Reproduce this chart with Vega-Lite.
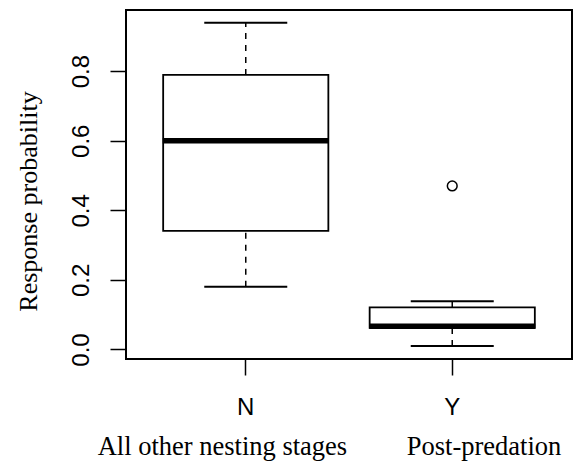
{
  "$schema": "https://vega.github.io/schema/vega-lite/v6.json",
  "width": 446,
  "height": 349,
  "autosize": {"type": "none"},
  "padding": {"left": 126, "top": 10, "right": 1, "bottom": 104},
  "background": "white",
  "config": {
    "view": {"stroke": "black", "strokeWidth": 2},
    "axis": {"grid": false, "domain": false, "tickColor": "black", "tickWidth": 1.5, "labelColor": "black", "titleColor": "black"},
    "axisY": {
      "format": ".1f", "labelAngle": -90, "labelAlign": "center", "labelBaseline": "alphabetic",
      "labelFont": "Liberation Sans", "labelFontSize": 24, "labelPadding": 22, "tickSize": 16,
      "titleFont": "Liberation Serif", "titleFontSize": 26, "titleFontWeight": "normal", "titlePadding": 28, "titleY": 191
    }
  },
  "datasets": {
    "stats": [
      {"stage": "N", "lo": 0.18, "q1": 0.341, "med": 0.600, "q3": 0.789, "hi": 0.939},
      {"stage": "Y", "lo": 0.010, "q1": 0.062, "med": 0.067, "q3": 0.121, "hi": 0.139}
    ],
    "outliers": [
      {"stage": "Y", "value": 0.47}
    ]
  },
  "encoding": {
    "x": {
      "field": "stage", "type": "nominal",
      "scale": {"type": "band", "domain": ["N", "Y"], "paddingInner": 0.2, "paddingOuter": 0.18},
      "axis": {
        "labelAngle": 0, "labelFont": "Liberation Sans", "labelFontSize": 24, "labelPadding": 20, "tickSize": 16,
        "title": "All other nesting stages\u00a0\u00a0\u00a0\u00a0\u00a0\u00a0\u00a0\u00a0\u00a0Post-predation",
        "titleFont": "Liberation Serif", "titleFontSize": 26.5, "titleFontWeight": "normal", "titlePadding": 14, "titleX": 203
      }
    }
  },
  "layer": [
    {
      "data": {"name": "stats"},
      "mark": {"type": "rule", "color": "black", "strokeWidth": 1.5, "strokeDash": [6, 6]},
      "encoding": {
        "y": {
          "field": "q3", "type": "quantitative", "title": "Response probability",
          "scale": {"domain": [-0.0273, 0.9756], "nice": false, "zero": false},
          "axis": {"values": [0, 0.2, 0.4, 0.6, 0.8], "format": ".1f"}
        },
        "y2": {"field": "hi"}
      }
    },
    {
      "data": {"name": "stats"},
      "mark": {"type": "rule", "color": "black", "strokeWidth": 1.5, "strokeDash": [6, 6]},
      "encoding": {
        "y": {"field": "lo", "type": "quantitative", "title": "Response probability"},
        "y2": {"field": "q1"}
      }
    },
    {
      "data": {"name": "stats"},
      "mark": {"type": "tick", "color": "black", "opacity": 1, "size": 83, "thickness": 2},
      "encoding": {"y": {"field": "hi", "type": "quantitative", "title": "Response probability"}}
    },
    {
      "data": {"name": "stats"},
      "mark": {"type": "tick", "color": "black", "opacity": 1, "size": 83, "thickness": 2},
      "encoding": {"y": {"field": "lo", "type": "quantitative", "title": "Response probability"}}
    },
    {
      "data": {"name": "stats"},
      "mark": {"type": "bar", "fill": "white", "stroke": "black", "strokeWidth": 1.8, "opacity": 1},
      "encoding": {
        "y": {"field": "q1", "type": "quantitative", "title": "Response probability"},
        "y2": {"field": "q3"}
      }
    },
    {
      "data": {"name": "stats"},
      "mark": {"type": "tick", "color": "black", "opacity": 1, "size": 166, "thickness": 5.5},
      "encoding": {"y": {"field": "med", "type": "quantitative", "title": "Response probability"}}
    },
    {
      "data": {"name": "outliers"},
      "mark": {"type": "point", "shape": "circle", "filled": false, "color": "black", "strokeWidth": 1.5, "size": 95, "opacity": 1},
      "encoding": {"y": {"field": "value", "type": "quantitative", "title": "Response probability"}}
    }
  ]
}
